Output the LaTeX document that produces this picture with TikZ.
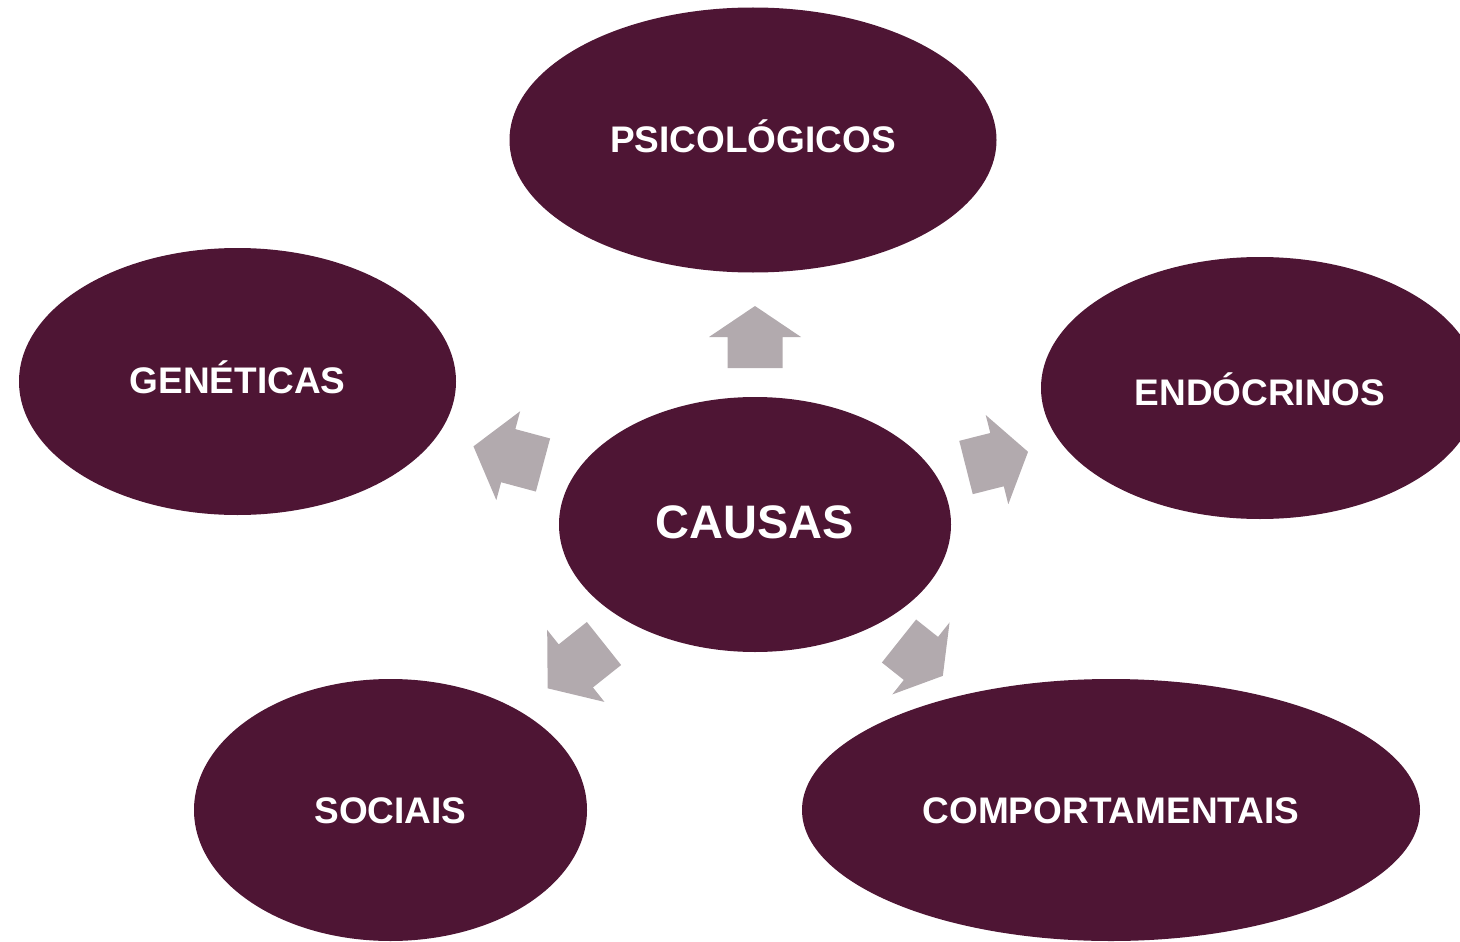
\documentclass[tikz,border=0pt]{standalone}
\usepackage{fontspec}
\setmainfont{Liberation Sans}
\usetikzlibrary{shapes.geometric}
\definecolor{wine}{RGB}{78,21,52}
\definecolor{arrowgray}{RGB}{178,170,174}
\tikzset{
  causebox/.style={ellipse, fill=wine, draw=none, inner sep=0pt, text=white,
    font=\fontsize{37}{44}\selectfont\bfseries, text height=26.5pt, text depth=0pt},
  centerbox/.style={causebox, font=\fontsize{47}{56}\selectfont\bfseries, text height=33.7pt, text depth=6pt},
  grayarrow/.style={fill=arrowgray, draw=none}
}
\newcommand\blockarrow[3]{% base coordinate, angle, length
  \fill[grayarrow, shift={(#1)}, rotate=#2]
    (0,-27.5) -- (#3/2,-27.5) -- (#3/2,-46) -- (#3,0) -- (#3/2,46) -- (#3/2,27.5) -- (0,27.5) -- cycle;}
\begin{document}
\begin{tikzpicture}[x=1pt, y=-1pt]
\useasboundingbox (0,0) rectangle (1460,942);
\clip (0,0) rectangle (1460,942);
\node[causebox, minimum width=487pt, minimum height=265pt, text depth=2pt] (psi) at (753,140) {PSICOLÓGICOS};
\node[causebox, minimum width=437pt, minimum height=267pt, text depth=2pt] (gen) at (237.5,381.5) {GENÉTICAS};
\node[causebox, minimum width=438pt, minimum height=262pt, text height=34.5pt] (end) at (1260,388) {ENDÓCRINOS};
\node[centerbox, minimum width=392pt, minimum height=255pt] (causas) at (755,524.5) {CAUSAS};
\node[causebox, minimum width=393pt, minimum height=262pt] (soc) at (390.5,810) {SOCIAIS};
\node[causebox, minimum width=618pt, minimum height=262pt] (comp) at (1111,810) {COMPORTAMENTAIS};
\coordinate (aPsi) at (755,368);
\coordinate (aGen) at (543,465);
\coordinate (aEnd) at (966,467.5);
\coordinate (aSoc) at (604,643.5);
\coordinate (aComp) at (899,641);
\blockarrow{aPsi}{90}{62}
\blockarrow{aGen}{165}{72}
\blockarrow{aEnd}{14.2}{64}
\blockarrow{aSoc}{218.5}{72}
\blockarrow{aComp}{-38.5}{56}
\end{tikzpicture}
\end{document}
